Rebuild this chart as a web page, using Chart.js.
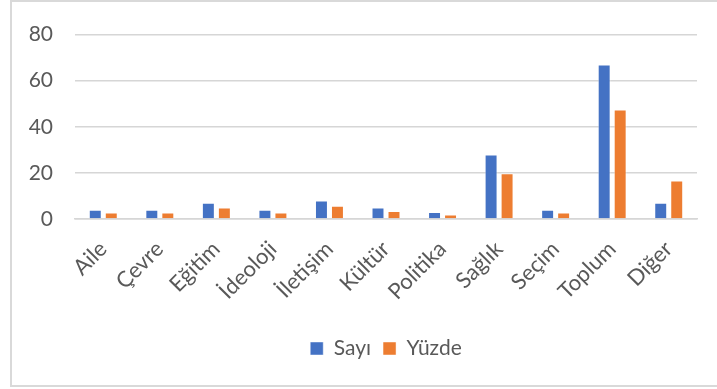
<!DOCTYPE html>
<html>
<head>
<meta charset="utf-8">
<script src="https://cdn.jsdelivr.net/npm/chart.js@4/dist/chart.umd.min.js"></script>
<style>
  html, body { margin: 0; padding: 0; background: #fff; }
  #wrap { position: relative; width: 717px; height: 389px; }
  #frame { position: absolute; left: 10px; top: 0; width: 705px; height: 383px; border: 2px solid #d9d9d9; box-sizing: content-box; }
  #chart { position: absolute; left: 0; top: 0; }
</style>
</head>
<body>
<div id="wrap">
  <div id="frame"></div>
  <canvas id="chart" width="717" height="389"></canvas>
</div>
<script>
const categories = ['Aile', 'Çevre', 'Eğitim', 'İdeoloji', 'İletişim', 'Kültür', 'Politika', 'Sağlık', 'Seçim', 'Toplum', 'Diğer'];
const sayi = [4, 4, 7, 4, 8, 5, 3, 28, 4, 67, 7];
const yuzde = [2.8, 2.8, 5, 2.8, 5.7, 3.5, 2, 19.9, 2.8, 47.5, 16.7];
const yTicks = [0, 20, 40, 60, 80];

const FONT = 'Lato, "Open Sans", sans-serif';
const TEXT = '#595959';

new Chart(document.getElementById('chart'), {
  type: 'bar',
  data: {
    labels: categories,
    datasets: [
      { label: 'Sayı', data: sayi, backgroundColor: '#4472C4', borderColor: 'rgba(255,255,255,0.45)', borderWidth: 1,
        categoryPercentage: 0.566, barPercentage: 0.81 },
      { label: 'Yüzde', data: yuzde, backgroundColor: '#ED7D31', borderColor: 'rgba(255,255,255,0.45)', borderWidth: 1,
        categoryPercentage: 0.566, barPercentage: 0.81 },
    ],
  },
  options: {
    responsive: false,
    animation: false,
    layout: { padding: { top: 27, left: 0, right: 20, bottom: 20 } },
    plugins: {
      tooltip: { enabled: false },
      legend: {
        position: 'bottom',
        fullSize: false,
        labels: { font: { family: FONT, size: 21 }, color: TEXT, boxWidth: 13, boxHeight: 13, padding: 12 },
      },
    },
    scales: {
      x: {
        grid: { display: false, drawTicks: false },
        border: { color: '#d6d6d6', width: 1.5 },
        ticks: { font: { family: FONT, size: 22 }, color: TEXT, minRotation: 45, maxRotation: 45, padding: 17 },
        afterFit: s => { s.height = 107; },
      },
      y: {
        min: 0, max: 80,
        afterBuildTicks: s => { s.ticks = yTicks.map(v => ({ value: v })); },
        grid: { color: '#d6d6d6', lineWidth: 1.5, drawTicks: false },
        border: { display: false },
        ticks: { font: { family: FONT, size: 21 }, color: TEXT, padding: 22 },
        afterFit: s => { s.width = 75; },
      },
    },
  },
});
</script>
</body>
</html>
